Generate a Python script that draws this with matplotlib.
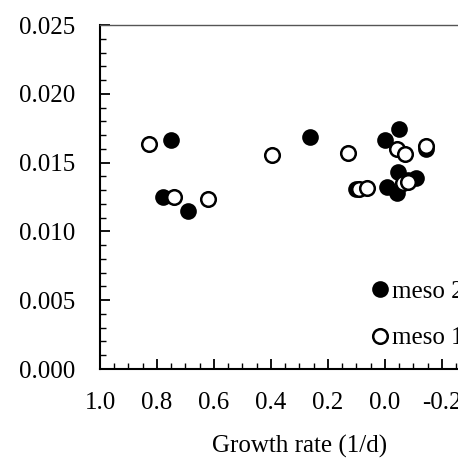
import numpy as np
import matplotlib.pyplot as plt
from matplotlib.ticker import MultipleLocator, FormatStrFormatter

plt.rcParams["font.family"] = ["Liberation Serif", "DejaVu Serif"]

# meso 2 (filled)
meso2X = [0.751, 0.779, 0.691, 0.263, -0.049, 0.000, -0.144, -0.046, -0.109, -0.007, -0.042, 0.102, -0.080]
meso2Y = [0.01664, 0.01250, 0.01148, 0.01686, 0.01744, 0.01664, 0.01600, 0.01430, 0.01390, 0.01320, 0.01280, 0.01310, 0.01370]
# meso 1 (open)
meso1X = [0.828, 0.740, 0.621, 0.396, 0.130, -0.042, -0.070, -0.144, 0.091, 0.063, -0.063, -0.081]
meso1Y = [0.01635, 0.01250, 0.01235, 0.01555, 0.01570, 0.01600, 0.01563, 0.01620, 0.01310, 0.01315, 0.01352, 0.01360]

fig = plt.figure(figsize=(4.58, 4.59), dpi=100)
ax = fig.add_axes([100 / 458, 90 / 459, 399 / 458, 344 / 459])

ax.plot(meso2X, meso2Y, "o", color="black", markersize=10.5, markeredgewidth=1.5,
        markeredgecolor="black", label="meso 2", linestyle="none")
ax.plot(meso1X, meso1Y, "o", markerfacecolor="white", markersize=10.5, markeredgewidth=1.8,
        markeredgecolor="black", label="meso 1", linestyle="none")

ax.set_xlim(1.0, -0.4)
ax.set_ylim(0.0, 0.025)
ax.xaxis.set_major_locator(MultipleLocator(0.2))
ax.xaxis.set_minor_locator(MultipleLocator(0.05))
ax.yaxis.set_major_locator(MultipleLocator(0.005))
ax.yaxis.set_minor_locator(MultipleLocator(0.001))
ax.xaxis.set_major_formatter(FormatStrFormatter("%.1f"))
ax.yaxis.set_major_formatter(FormatStrFormatter("%.3f"))

ax.tick_params(axis="both", which="both", direction="in", labelsize=18, top=False, right=False)
ax.tick_params(axis="both", which="major", length=7, width=1.3)
ax.tick_params(axis="both", which="minor", length=4, width=1.0)
ax.tick_params(axis="x", pad=16.5)
ax.tick_params(axis="y", pad=18)

ax.spines["left"].set_linewidth(1.5)
ax.spines["bottom"].set_linewidth(1.5)
ax.spines["top"].set_linewidth(1.0)
ax.spines["top"].set_color("#555555")
ax.spines["right"].set_visible(False)

ax.set_xlabel("Growth rate (1/d)", fontsize=18, labelpad=15)

ax.legend(loc="upper left", bbox_to_anchor=(372 / 458, 1 - 280 / 459), bbox_transform=fig.transFigure,
          frameon=False, fontsize=18, handlelength=0.6, handletextpad=0.2, labelspacing=0.97,
          borderpad=0, borderaxespad=0, markerscale=1.0)

fig.savefig("out.png", dpi=100)
